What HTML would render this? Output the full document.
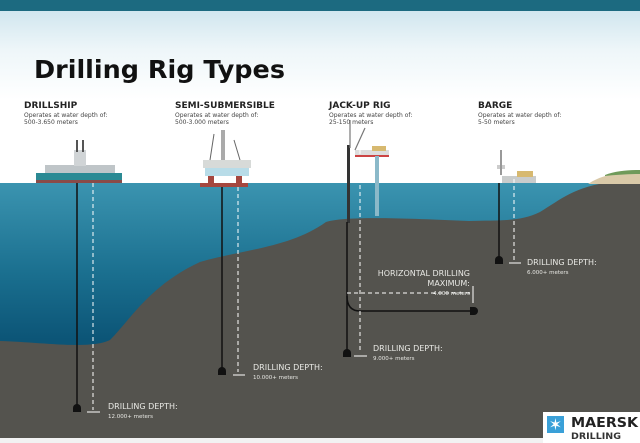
<!DOCTYPE html>
<html><head><meta charset="utf-8"><style>
html,body{margin:0;padding:0;background:#fff}
svg{display:block}
</style></head><body>
<svg width="640" height="443" viewBox="0 0 640 443" xmlns="http://www.w3.org/2000/svg" font-family="'DejaVu Sans','Liberation Sans',sans-serif">
<defs>
<linearGradient id="sky" x1="0" y1="0" x2="0" y2="1">
<stop offset="0" stop-color="#c9e2ec"/><stop offset="0.5" stop-color="#eef6f9"/><stop offset="1" stop-color="#ffffff"/>
</linearGradient>
<linearGradient id="sea" x1="0" y1="0" x2="0" y2="1">
<stop offset="0" stop-color="#3b94b0"/><stop offset="0.35" stop-color="#1a6f8f"/><stop offset="0.6" stop-color="#0c5577"/><stop offset="1" stop-color="#0c5577"/>
</linearGradient>
</defs>
<rect x="0" y="0" width="640" height="100" fill="url(#sky)"/>
<rect x="0" y="100" width="640" height="84" fill="#fff"/>
<rect x="0" y="0" width="640" height="11" fill="#1c6a80"/>
<text x="34" y="78" font-size="25" font-weight="bold" fill="#111" textLength="251" lengthAdjust="spacingAndGlyphs">Drilling Rig Types</text>

<g fill="#222">
<text x="24" y="108" font-size="9" font-weight="bold">DRILLSHIP</text>
<text x="24" y="117" font-size="6" fill="#444">Operates at water depth of:</text>
<text x="24" y="124" font-size="6" fill="#444">500-3.650 meters</text>
<text x="175" y="108" font-size="9" font-weight="bold">SEMI-SUBMERSIBLE</text>
<text x="175" y="117" font-size="6" fill="#444">Operates at water depth of:</text>
<text x="175" y="124" font-size="6" fill="#444">500-3.000 meters</text>
<text x="329" y="108" font-size="9" font-weight="bold">JACK-UP RIG</text>
<text x="329" y="117" font-size="6" fill="#444">Operates at water depth of:</text>
<text x="329" y="124" font-size="6" fill="#444">25-150 meters</text>
<text x="478" y="108" font-size="9" font-weight="bold">BARGE</text>
<text x="478" y="117" font-size="6" fill="#444">Operates at water depth of:</text>
<text x="478" y="124" font-size="6" fill="#444">5-50 meters</text>
</g>

<rect x="0" y="183" width="640" height="260" fill="url(#sea)"/>
<path d="M0,341 C40,342 90,350 110,340 C130,320 150,285 200,262 C240,250 290,248 326,222 C345,216 400,218 469,221 C500,220 520,222 540,212 C560,200 575,186 612,182 L640,182 L640,443 L0,443 Z" fill="#54534e"/>
<rect x="0" y="438" width="640" height="5" fill="#f2f2f2"/>
<!-- land -->
<path d="M588,184 C600,176 615,172 640,172 L640,184 Z" fill="#d9c9a8"/>
<path d="M605,175 C615,171 628,170 640,170 L640,174 C628,174 615,175 605,176 Z" fill="#6f9a5a"/>

<!-- drillship -->
<rect x="36" y="173" width="86" height="7" fill="#2b8a94"/>
<rect x="36" y="180" width="86" height="3" fill="#8a4b48"/>
<rect x="45" y="165" width="70" height="8" fill="#bfc5c8"/>
<rect x="74" y="150" width="12" height="16" fill="#d0d4d6"/>
<rect x="76" y="140" width="2" height="12" fill="#555"/><rect x="82" y="140" width="2" height="12" fill="#555"/>
<!-- semi -->
<rect x="203" y="160" width="48" height="8" fill="#d7dad8"/>
<rect x="205" y="168" width="44" height="8" fill="#b8dce8"/>
<rect x="208" y="176" width="6" height="8" fill="#a5473f"/><rect x="236" y="176" width="6" height="8" fill="#a5473f"/>
<rect x="200" y="183" width="48" height="4" fill="#a5473f"/>
<rect x="221" y="130" width="4" height="30" fill="#aaa"/>
<path d="M210,160 L214,134 M240,160 L234,140" stroke="#666" stroke-width="1"/>
<!-- jackup -->
<rect x="355" y="150" width="34" height="6" fill="#ddd"/>
<rect x="355" y="155" width="34" height="2" fill="#c44"/>
<rect x="372" y="146" width="14" height="5" fill="#d7b970"/>
<rect x="347" y="145" width="3" height="78" fill="#333"/>
<rect x="375" y="156" width="4" height="60" fill="#8bb9c9"/>
<path d="M350,148 L350,120 M355,150 L365,128" stroke="#777" stroke-width="1.2"/>
<!-- barge -->
<rect x="502" y="176" width="34" height="7" fill="#c9cccc"/>
<rect x="517" y="171" width="16" height="6" fill="#d7b970"/>
<rect x="497" y="165" width="8" height="4" fill="#ccc"/>
<rect x="500" y="150" width="2" height="25" fill="#999"/>

<!-- drill lines -->
<g stroke="#111" stroke-width="1.5" fill="none">
<line x1="77" y1="183" x2="77" y2="410"/>
<line x1="222" y1="187" x2="222" y2="370"/>
<line x1="347" y1="222" x2="347" y2="352"/>
<line x1="499" y1="183" x2="499" y2="260"/>
<path d="M347,296 Q347,311 360,311 L472,311"/>
</g>
<g fill="#111">
<path d="M73,412 v-4 a4,4 0 0 1 8,0 v4 z"/>
<path d="M218,375 v-4 a4,4 0 0 1 8,0 v4 z"/>
<path d="M343,357 v-4 a4,4 0 0 1 8,0 v4 z"/>
<path d="M495,264 v-4 a4,4 0 0 1 8,0 v4 z"/>
<path d="M470,307 h4 a4,4 0 0 1 0,8 h-4 z"/>
</g>
<g stroke="#fff" stroke-width="1" stroke-dasharray="4,3" fill="none">
<line x1="93" y1="183" x2="93" y2="410"/>
<line x1="238" y1="187" x2="238" y2="372"/>
<line x1="360" y1="150" x2="360" y2="352"/>
<line x1="514" y1="172" x2="514" y2="260"/>
<line x1="347" y1="293" x2="470" y2="293"/>
</g>
<g stroke="#fff" stroke-width="1">
<line x1="87" y1="412" x2="100" y2="412"/>
<line x1="233" y1="375" x2="245" y2="375"/>
<line x1="354" y1="356" x2="367" y2="356"/>
<line x1="509" y1="263" x2="521" y2="263"/>
<line x1="473" y1="286" x2="473" y2="303"/>
</g>
<g fill="#e8e8e4">
<text x="108" y="409" font-size="8">DRILLING DEPTH:</text>
<text x="108" y="418" font-size="5.5">12.000+ meters</text>
<text x="253" y="370" font-size="8">DRILLING DEPTH:</text>
<text x="253" y="379" font-size="5.5">10.000+ meters</text>
<text x="373" y="351" font-size="8">DRILLING DEPTH:</text>
<text x="373" y="360" font-size="5.5">9.000+ meters</text>
<text x="527" y="265" font-size="8">DRILLING DEPTH:</text>
<text x="527" y="274" font-size="5.5">6.000+ meters</text>
<text x="470" y="276" font-size="8" text-anchor="end">HORIZONTAL DRILLING</text>
<text x="470" y="286" font-size="8" text-anchor="end">MAXIMUM:</text>
<text x="470" y="295" font-size="5.5" text-anchor="end">4.000 meters</text>
</g>

<!-- logo -->
<rect x="543" y="412" width="97" height="31" fill="#fff"/>
<rect x="547" y="416" width="17" height="17" fill="#3aa0d8"/>
<text x="555.5" y="430" font-size="16" fill="#fff" text-anchor="middle">✶</text>
<text x="571" y="427" font-size="13" font-weight="bold" fill="#222" textLength="67" lengthAdjust="spacingAndGlyphs">MAERSK</text>
<text x="571" y="439" font-size="9" font-weight="bold" fill="#333" textLength="50" lengthAdjust="spacingAndGlyphs">DRILLING</text>
</svg>
</body></html>
